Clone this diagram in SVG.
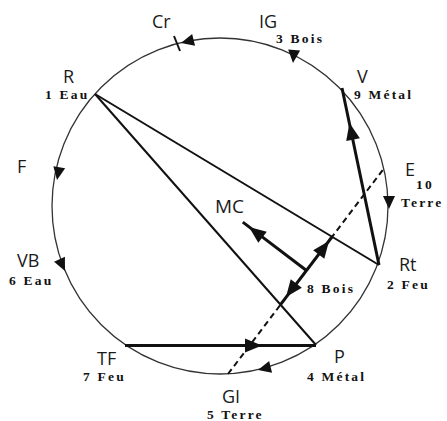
<svg xmlns="http://www.w3.org/2000/svg" xmlns:xlink="http://www.w3.org/1999/xlink" width="447" height="421" viewBox="0 0 447 421">
<style>
.lbl{font-family:"Open Sans","DejaVu Sans",sans-serif;font-size:18px;fill:#1a1a1a}
.num{font-family:"Liberation Serif","Times New Roman",serif;font-size:13.5px;font-weight:bold;letter-spacing:2.2px;fill:#111}
.ring{fill:none;stroke:#333;stroke-width:1.3}
.thin{stroke:#111;stroke-width:2;fill:none}
.thick{stroke:#111;stroke-width:3;fill:none}
.dash{stroke:#111;stroke-width:2;stroke-dasharray:6 4;fill:none}
.ah{fill:#111}
</style>
<defs>
<path id="a" d="M0,0 L-13,-6 L-13,6 Z"/>
<path id="b" d="M0,0 L-17,-7 L-17,7 Z"/>
</defs>
<g id="connectors">
<circle class="ring" cx="220" cy="206" r="168"/>
<line class="thin" x1="174" y1="36" x2="180" y2="51"/>
<line class="thin" x1="95" y1="94" x2="379" y2="265"/>
<line class="thin" x1="95" y1="94" x2="316" y2="345"/>
<line class="thick" x1="125" y1="345.5" x2="316" y2="345.5"/>
<line class="thick" x1="379" y1="265" x2="342" y2="88"/>
<line class="dash" x1="228" y1="374" x2="385" y2="167"/>
<line class="thick" x1="280.5" y1="304.7" x2="332.3" y2="236.5"/>
<line class="thick" x1="306.5" y1="270.5" x2="242.8" y2="222.1"/>
<g class="ah">
<use xlink:href="#a" transform="translate(181,43) rotate(166)"/>
<use xlink:href="#a" transform="translate(293,63) rotate(95)"/>
<use xlink:href="#a" transform="translate(57,180) rotate(100)"/>
<use xlink:href="#a" transform="translate(65,271) rotate(65)"/>
<use xlink:href="#a" transform="translate(389,209) rotate(90)"/>
<use xlink:href="#a" transform="translate(258,370) rotate(166)"/>
<use xlink:href="#b" transform="translate(262,345.5) rotate(0)"/>
<use xlink:href="#b" transform="translate(349.5,123) rotate(258)"/>
<use xlink:href="#b" transform="translate(286,297) rotate(127.2)"/>
<use xlink:href="#b" transform="translate(329,241) rotate(-52.8)"/>
<use xlink:href="#b" transform="translate(249,227) rotate(217.2)"/>
</g>
</g>
<g id="Cr"><text class="lbl" x="152" y="28">Cr</text></g>
<g id="IG"><text class="lbl" x="259" y="28">IG</text><text class="num" x="276" y="43">3 Bois</text></g>
<g id="R"><text class="lbl" x="63" y="83">R</text><text class="num" x="45" y="99">1 Eau</text></g>
<g id="V"><text class="lbl" x="357" y="83">V</text><text class="num" x="354" y="99">9 Métal</text></g>
<g id="F"><text class="lbl" x="17" y="173">F</text></g>
<g id="E"><text class="lbl" x="405" y="176">E</text><text class="num" x="416" y="189">10</text><text class="num" x="401" y="207">Terre</text></g>
<g id="MC"><text class="lbl" x="215" y="213" style="font-size:19px">MC</text></g>
<g id="VB"><text class="lbl" x="17" y="267">VB</text><text class="num" x="9" y="285">6 Eau</text></g>
<g id="Rt"><text class="lbl" x="399" y="271">Rt</text><text class="num" x="387" y="289">2 Feu</text></g>
<g id="B8"><text class="num" x="307" y="293">8 Bois</text></g>
<g id="TF"><text class="lbl" x="97" y="365">TF</text><text class="num" x="83" y="381">7 Feu</text></g>
<g id="P"><text class="lbl" x="334" y="363">P</text><text class="num" x="307" y="381">4 Métal</text></g>
<g id="GI"><text class="lbl" x="222" y="403">GI</text><text class="num" x="207" y="419">5 Terre</text></g>
</svg>
